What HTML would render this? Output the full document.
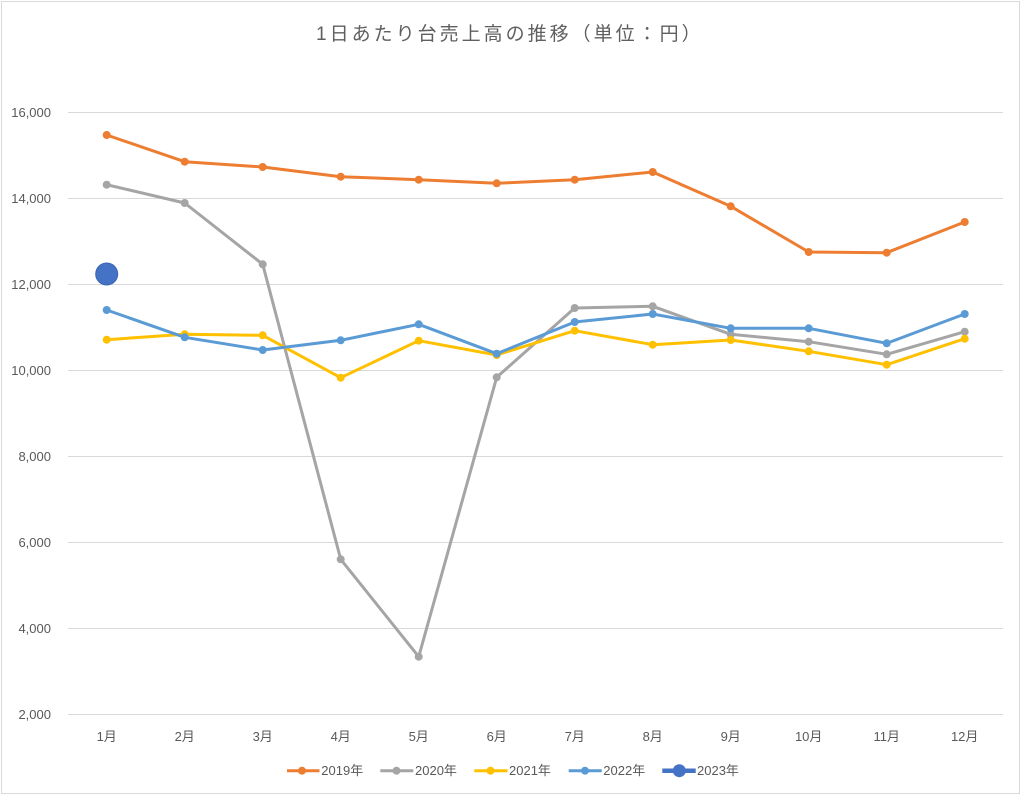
<!DOCTYPE html>
<html>
<head>
<meta charset="utf-8">
<style>
  html,body{margin:0;padding:0;background:#fff;}
  body{width:1024px;height:797px;overflow:hidden;}
  svg{display:block;}
  text{font-family:"Liberation Sans","Noto Sans CJK JP",sans-serif;fill:#595959;}
</style>
</head>
<body>
<svg width="1024" height="797" viewBox="0 0 1024 797" xmlns="http://www.w3.org/2000/svg">
  <rect x="0" y="0" width="1024" height="797" fill="#fff"/>
  <rect x="1.5" y="1.5" width="1018" height="792" fill="#fff" stroke="#d9d9d9" stroke-width="1"/>

  <!-- title -->
  <text x="316" y="40" font-size="19" letter-spacing="3" style="fill:#5f5f5f">1日あたり台売上高の推移（単位：円）</text>

  <!-- gridlines -->
  <g stroke="#d9d9d9" stroke-width="1">
    <line x1="68" y1="112.5" x2="1003" y2="112.5"/>
    <line x1="68" y1="198.5" x2="1003" y2="198.5"/>
    <line x1="68" y1="284.5" x2="1003" y2="284.5"/>
    <line x1="68" y1="370.5" x2="1003" y2="370.5"/>
    <line x1="68" y1="456.5" x2="1003" y2="456.5"/>
    <line x1="68" y1="542.5" x2="1003" y2="542.5"/>
    <line x1="68" y1="628.5" x2="1003" y2="628.5"/>
    <line x1="68" y1="714.5" x2="1003" y2="714.5"/>
  </g>

  <!-- y labels -->
  <g font-size="13" text-anchor="end">
    <text x="51" y="117">16,000</text>
    <text x="51" y="203">14,000</text>
    <text x="51" y="289">12,000</text>
    <text x="51" y="375">10,000</text>
    <text x="51" y="461">8,000</text>
    <text x="51" y="547">6,000</text>
    <text x="51" y="633">4,000</text>
    <text x="51" y="719">2,000</text>
  </g>

  <!-- x labels -->
  <g font-size="13" text-anchor="middle">
    <text x="106.7" y="741">1月</text>
    <text x="184.7" y="741">2月</text>
    <text x="262.7" y="741">3月</text>
    <text x="340.7" y="741">4月</text>
    <text x="418.7" y="741">5月</text>
    <text x="496.7" y="741">6月</text>
    <text x="574.7" y="741">7月</text>
    <text x="652.7" y="741">8月</text>
    <text x="730.7" y="741">9月</text>
    <text x="808.7" y="741">10月</text>
    <text x="886.7" y="741">11月</text>
    <text x="964.7" y="741">12月</text>
  </g>

  <!-- 2019 -->
  <g fill="#ED7D31">
    <polyline fill="none" stroke="#ED7D31" stroke-width="3" stroke-linejoin="round"
      points="106.7,135 184.7,161.7 262.7,167 340.7,176.7 418.7,179.7 496.7,183.3 574.7,179.7 652.7,172 730.7,206.3 808.7,252 886.7,252.7 964.7,222"/>
    <circle cx="106.7" cy="135" r="4"/><circle cx="184.7" cy="161.7" r="4"/><circle cx="262.7" cy="167" r="4"/>
    <circle cx="340.7" cy="176.7" r="4"/><circle cx="418.7" cy="179.7" r="4"/><circle cx="496.7" cy="183.3" r="4"/>
    <circle cx="574.7" cy="179.7" r="4"/><circle cx="652.7" cy="172" r="4"/><circle cx="730.7" cy="206.3" r="4"/>
    <circle cx="808.7" cy="252" r="4"/><circle cx="886.7" cy="252.7" r="4"/><circle cx="964.7" cy="222" r="4"/>
  </g>

  <!-- 2020 -->
  <g fill="#A5A5A5">
    <polyline fill="none" stroke="#A5A5A5" stroke-width="3" stroke-linejoin="round"
      points="106.7,184.7 184.7,203 262.7,264.3 340.7,559.3 418.7,656.7 496.7,377.3 574.7,308 652.7,306.3 730.7,334.3 808.7,341.7 886.7,354.3 964.7,331.7"/>
    <circle cx="106.7" cy="184.7" r="4"/><circle cx="184.7" cy="203" r="4"/><circle cx="262.7" cy="264.3" r="4"/>
    <circle cx="340.7" cy="559.3" r="4"/><circle cx="418.7" cy="656.7" r="4"/><circle cx="496.7" cy="377.3" r="4"/>
    <circle cx="574.7" cy="308" r="4"/><circle cx="652.7" cy="306.3" r="4"/><circle cx="730.7" cy="334.3" r="4"/>
    <circle cx="808.7" cy="341.7" r="4"/><circle cx="886.7" cy="354.3" r="4"/><circle cx="964.7" cy="331.7" r="4"/>
  </g>

  <!-- 2021 -->
  <g fill="#FFC000">
    <polyline fill="none" stroke="#FFC000" stroke-width="3" stroke-linejoin="round"
      points="106.7,339.7 184.7,334.3 262.7,335.3 340.7,377.7 418.7,340.7 496.7,355 574.7,330.7 652.7,344.7 730.7,340 808.7,351.3 886.7,364.7 964.7,338.7"/>
    <circle cx="106.7" cy="339.7" r="4"/><circle cx="184.7" cy="334.3" r="4"/><circle cx="262.7" cy="335.3" r="4"/>
    <circle cx="340.7" cy="377.7" r="4"/><circle cx="418.7" cy="340.7" r="4"/><circle cx="496.7" cy="355" r="4"/>
    <circle cx="574.7" cy="330.7" r="4"/><circle cx="652.7" cy="344.7" r="4"/><circle cx="730.7" cy="340" r="4"/>
    <circle cx="808.7" cy="351.3" r="4"/><circle cx="886.7" cy="364.7" r="4"/><circle cx="964.7" cy="338.7" r="4"/>
  </g>

  <!-- 2022 -->
  <g fill="#5B9BD5">
    <polyline fill="none" stroke="#5B9BD5" stroke-width="3" stroke-linejoin="round"
      points="106.7,310 184.7,337.3 262.7,350 340.7,340.3 418.7,324.3 496.7,353.7 574.7,322 652.7,314 730.7,328.3 808.7,328.3 886.7,343.3 964.7,314"/>
    <circle cx="106.7" cy="310" r="4"/><circle cx="184.7" cy="337.3" r="4"/><circle cx="262.7" cy="350" r="4"/>
    <circle cx="340.7" cy="340.3" r="4"/><circle cx="418.7" cy="324.3" r="4"/><circle cx="496.7" cy="353.7" r="4"/>
    <circle cx="574.7" cy="322" r="4"/><circle cx="652.7" cy="314" r="4"/><circle cx="730.7" cy="328.3" r="4"/>
    <circle cx="808.7" cy="328.3" r="4"/><circle cx="886.7" cy="343.3" r="4"/><circle cx="964.7" cy="314" r="4"/>
  </g>

  <!-- 2023 -->
  <circle cx="106.7" cy="274" r="11" fill="#4472C4" stroke="#3a64b4" stroke-width="1"/>

  <!-- legend -->
  <g font-size="13">
    <line x1="287" y1="770.7" x2="319.5" y2="770.7" stroke="#ED7D31" stroke-width="3"/>
    <circle cx="302" cy="770.7" r="4" fill="#ED7D31"/>
    <text x="321.3" y="775">2019年</text>

    <line x1="380.3" y1="770.7" x2="413.3" y2="770.7" stroke="#A5A5A5" stroke-width="3"/>
    <circle cx="396.5" cy="770.7" r="4" fill="#A5A5A5"/>
    <text x="415" y="775">2020年</text>

    <line x1="474.3" y1="770.7" x2="507.5" y2="770.7" stroke="#FFC000" stroke-width="3"/>
    <circle cx="490.5" cy="770.7" r="4" fill="#FFC000"/>
    <text x="509" y="775">2021年</text>

    <line x1="568.7" y1="770.7" x2="601.7" y2="770.7" stroke="#5B9BD5" stroke-width="3"/>
    <circle cx="585" cy="770.7" r="4" fill="#5B9BD5"/>
    <text x="603.3" y="775">2022年</text>

    <line x1="662.3" y1="770.7" x2="695.7" y2="770.7" stroke="#4472C4" stroke-width="4.5"/>
    <circle cx="679.3" cy="770.7" r="6.5" fill="#4472C4"/>
    <text x="697" y="775">2023年</text>
  </g>
</svg>
</body>
</html>
